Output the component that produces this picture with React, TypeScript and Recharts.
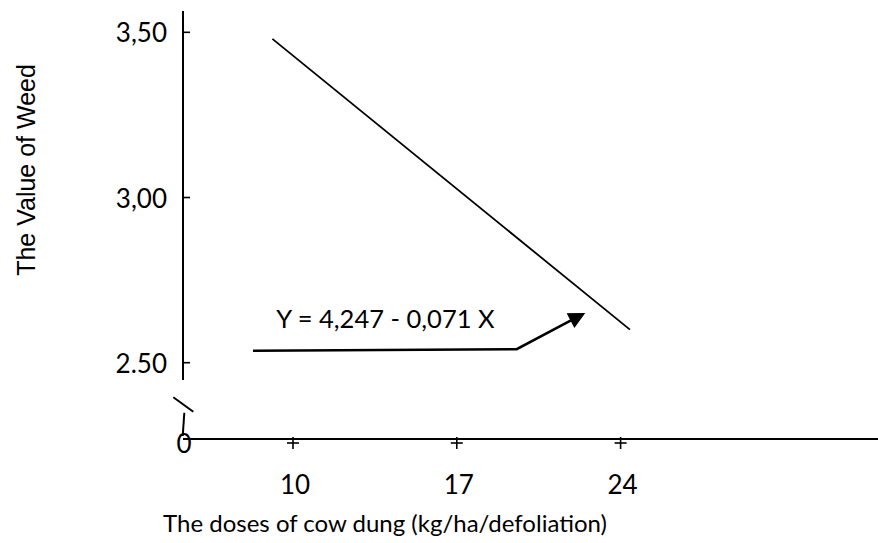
import React from "react";
import {
  ComposedChart,
  Line,
  XAxis,
  YAxis,
  ReferenceLine,
  ReferenceDot,
} from "recharts";

// ---- data ----
const xTicks = [5.3, 10, 17, 24];
const xTickLabels = ["0", "10", "17", "24"];
const yTicks = [2.5, 3.0, 3.5];
const yTickLabels = ["2.50", "3,00", "3,50"];

const regressionX = [9.12, 24.4];
const regressionY = [3.48, 2.6];

const arrowX = [8.29, 19.56, 21.88];
const arrowY = [2.536, 2.541, 2.628];

const equationText = "Y = 4,247 - 0,071 X";
const equationX = 13.95;
const equationY = 2.635;

const xTitle = "The doses of cow dung (kg/ha/defoliation)";
const yTitle = "The Value of Weed";

// axis break segments (data space)
const yAxisUpper = [
  { x: 5.3, y: 3.5645 },
  { x: 5.3, y: 2.4476 },
];
const yAxisLower = [
  { x: 5.356, y: 2.3487 },
  { x: 5.288, y: 2.2781 },
];
const breakSlash = [
  { x: 4.886, y: 2.3953 },
  { x: 5.741, y: 2.3517 },
];

const xDomain = [5.3, 35];
const yDomain = [2.2691, 3.5645];

const regressionData = regressionX.map((x, i) => ({ x, y: regressionY[i] }));
const arrowData = arrowX.map((x, i) => ({ x, y: arrowY[i] }));

const TICK_FONT = "Lato, 'Open Sans', sans-serif";

const XTick = (props: any) => {
  const { x, y, payload } = props;
  const idx = xTicks.indexOf(payload.value);
  const label = idx >= 0 ? xTickLabels[idx] : String(payload.value);
  if (label === "0") {
    return (
      <text
        x={x + 1}
        y={y + 4}
        textAnchor="middle"
        dominantBaseline="central"
        fontFamily={TICK_FONT}
        fontSize={26}
        fill="#000"
      >
        {label}
      </text>
    );
  }
  return (
    <g>
      <line x1={x} y1={y - 2} x2={x} y2={y + 10} stroke="#000" strokeWidth={1.6} />
      <line x1={x - 6} y1={y + 4} x2={x + 6} y2={y + 4} stroke="#000" strokeWidth={1.6} />
      <text
        x={x + 2}
        y={y + 45}
        textAnchor="middle"
        dominantBaseline="central"
        fontFamily={TICK_FONT}
        fontSize={26}
        fill="#000"
      >
        {label}
      </text>
    </g>
  );
};

const YTick = (props: any) => {
  const { x, y, payload } = props;
  const idx = yTicks.indexOf(payload.value);
  const label = idx >= 0 ? yTickLabels[idx] : String(payload.value);
  return (
    <g>
      <line x1={x} y1={y} x2={x + 7} y2={y} stroke="#000" strokeWidth={1.6} />
      <text
        x={x - 16}
        y={y}
        textAnchor="end"
        dominantBaseline="central"
        fontFamily={TICK_FONT}
        fontSize={26}
        fill="#000"
      >
        {label}
      </text>
    </g>
  );
};

const ArrowDot = (props: any) => {
  const { cx, cy, index } = props;
  if (index !== arrowX.length - 1 || cx == null || cy == null) {
    return <g key={`ad-${index}`} />;
  }
  return (
    <polygon
      key={`ad-${index}`}
      points="15,0 0,-7.5 0,7.5"
      transform={`translate(${cx},${cy}) rotate(-27.7)`}
      fill="#000"
      stroke="#000"
      strokeWidth={1}
    />
  );
};

const EquationShape = (props: any) => {
  const { cx, cy } = props;
  return (
    <text
      x={cx}
      y={cy}
      textAnchor="middle"
      dominantBaseline="central"
      fontFamily={TICK_FONT}
      fontSize={25.5}
      fill="#000"
    >
      {equationText}
    </text>
  );
};

const XTitle = (props: any) => {
  const vb = props.viewBox || { x: 183, y: 439 };
  return (
    <text
      x={vb.x + 202}
      y={vb.y + 83}
      textAnchor="middle"
      dominantBaseline="central"
      fontFamily={TICK_FONT}
      fontSize={24}
      fill="#000"
    >
      {xTitle}
    </text>
  );
};

const YTitle = () => {
  return (
    <text
      x={26}
      y={170}
      transform="rotate(-90, 26, 170)"
      textAnchor="middle"
      dominantBaseline="central"
      fontFamily="'Liberation Sans', Arial, sans-serif"
      fontSize={25}
      fill="#000"
    >
      {yTitle}
    </text>
  );
};

export default function App() {
  return (
    <div
      style={{
        position: "absolute",
        left: 0,
        top: 0,
        width: 878,
        height: 543,
        background: "#fff",
      }}
    >
      <ComposedChart
        width={878}
        height={543}
        margin={{ top: 11, right: 0, bottom: 44, left: 83 }}
      >
        <XAxis
          dataKey="x"
          type="number"
          domain={xDomain}
          allowDataOverflow
          ticks={xTicks}
          interval={0}
          height={60}
          tickSize={0}
          tickMargin={0}
          tickLine={false}
          axisLine={{ stroke: "#000", strokeWidth: 2 }}
          tick={<XTick />}
          label={(p: any) => <XTitle {...p} />}
        />
        <YAxis
          dataKey="y"
          type="number"
          domain={yDomain}
          allowDataOverflow
          ticks={yTicks}
          interval={0}
          width={100}
          tickSize={0}
          tickMargin={0}
          tickLine={false}
          axisLine={false}
          tick={<YTick />}
          label={() => <YTitle />}
        />
        <ReferenceLine
          segment={yAxisUpper}
          stroke="#000"
          strokeWidth={2}
          ifOverflow="visible"
        />
        <ReferenceLine
          segment={yAxisLower}
          stroke="#000"
          strokeWidth={2}
          ifOverflow="visible"
        />
        <ReferenceLine
          segment={breakSlash}
          stroke="#000"
          strokeWidth={2}
          ifOverflow="visible"
        />
        <Line
          data={regressionData}
          dataKey="y"
          type="linear"
          stroke="#000"
          strokeWidth={1.8}
          dot={false}
          activeDot={false}
          isAnimationActive={false}
        />
        <Line
          data={arrowData}
          dataKey="y"
          type="linear"
          stroke="#000"
          strokeWidth={2.6}
          dot={<ArrowDot />}
          activeDot={false}
          isAnimationActive={false}
        />
        <ReferenceDot
          x={equationX}
          y={equationY}
          r={0}
          shape={<EquationShape />}
          ifOverflow="visible"
        />
      </ComposedChart>
    </div>
  );
}
